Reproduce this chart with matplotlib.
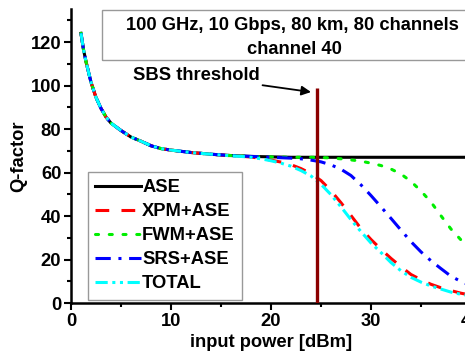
import matplotlib
matplotlib.use('Agg')
import matplotlib.pyplot as plt
from matplotlib.patches import Rectangle

plt.rcParams['font.family'] = ['Liberation Sans', 'DejaVu Sans']
plt.rcParams['font.weight'] = 'bold'

# input power [dBm]
power = [1, 1.25, 1.5, 2, 2.5, 3, 3.5, 4, 5, 6, 7, 8, 9, 10, 12, 14,
         16, 17, 18, 19, 20, 21, 22, 23, 24, 25, 26, 27, 28, 29, 30,
         31, 32, 33, 34, 35, 36, 37, 38, 39, 40]

# common low-power part (all curves overlap up to 14 dBm)
q_low = [124, 116.5, 111, 101.5, 94.5, 89.5, 85.5, 82.7, 79.3, 76.3,
         74.4, 72.3, 71.0, 70.3, 69.2, 68.4]

q_ase = q_low + [67.8, 67.6, 67.4, 67.3, 67.2, 67.1, 67.0, 67.0, 67.0, 67.0,
                 67.0, 67.0, 67.0, 67.0, 67.0, 67.0, 67.0, 67.0, 67.0, 67.0,
                 67.0, 67.0, 67.0, 67.0, 67.0]
q_xpm = q_low + [67.7, 67.5, 67.1, 66.5, 65.7, 64.8, 63.6, 61.8, 59.5, 56.3,
                 51.6, 46.1, 40.2, 34.2, 29.2, 24.7, 20.5, 16.7, 13.1, 10.7,
                 8.6, 7.0, 5.7, 4.5, 3.6]
q_fwm = q_low + [67.8, 67.6, 67.4, 67.3, 67.2, 67.1, 67.0, 67.0, 67.0, 66.9,
                 66.7, 66.3, 65.8, 65.2, 64.3, 63.2, 61.6, 59.3, 55.9, 51.5,
                 46.4, 40.1, 34.0, 29.0, 24.5]
q_srs = q_low + [67.8, 67.6, 67.4, 67.2, 67.0, 66.8, 66.6, 66.3, 65.7, 64.9,
                 63.5, 61.5, 58.6, 54.3, 49.4, 44.2, 38.9, 33.5, 28.2, 23.5,
                 19.4, 15.8, 12.3, 9.9, 8.0]
q_total = q_low + [67.7, 67.4, 67.0, 66.3, 65.4, 64.3, 62.9, 60.9, 58.4, 54.6,
                   49.8, 44.2, 38.3, 32.8, 27.6, 23.2, 18.6, 14.8, 11.8, 9.6,
                   7.8, 6.4, 5.0, 4.0, 3.3]

sbs_power = 24.6
sbs_top = 99

fs = 13.2

fig = plt.figure(figsize=(4.65, 3.59), dpi=100)
ax = fig.add_axes([71 / 465, 56 / 359, 400 / 465, 293.6 / 359])

lw = 2.2
ax.plot(power, q_ase, color='black', lw=lw, label='ASE')
ax.plot(power, q_xpm, color='red', lw=lw, dashes=(4.5, 4), label='XPM+ASE')
ax.plot(power, q_fwm, color='#00ee00', lw=lw, dashes=(1, 3.5),
        dash_capstyle='round', label='FWM+ASE')
ax.plot(power, q_srs, color='blue', lw=lw, dashes=(5, 2.5, 1, 2.5),
        label='SRS+ASE')
ax.plot(power, q_total, color='cyan', lw=lw, dashes=(4, 1.5, 1, 1.5, 1, 1.5),
        label='TOTAL')

ax.vlines(sbs_power, 0, sbs_top, color='#8b0000', lw=2.4, zorder=5)
ax.annotate('SBS threshold', xy=(24.0, 97), xytext=(6.2, 104.4),
            fontsize=fs, fontweight='bold', ha='left', va='center',
            arrowprops=dict(arrowstyle='-|>', color='black', lw=1.3,
                            mutation_scale=14, shrinkA=0, shrinkB=0))

ax.set_xlim(0, 40)
ax.set_ylim(0, 135)
ax.set_xticks([0, 10, 20, 30, 40])
ax.set_xticks([5, 15, 25, 35], minor=True)
ax.set_yticks([0, 20, 40, 60, 80, 100, 120])
ax.set_yticks([10, 30, 50, 70, 90, 110, 130], minor=True)
ax.tick_params(which='major', direction='out', length=5, width=1.5,
               labelsize=fs, pad=2)
ax.tick_params(which='minor', direction='out', length=3, width=1.5)
for t in ax.get_xticklabels() + ax.get_yticklabels():
    t.set_fontweight('bold')
for s in ['top', 'right']:
    ax.spines[s].set_visible(False)
for s in ['left', 'bottom']:
    ax.spines[s].set_linewidth(1.8)

ax.set_xlabel('input power [dBm]', fontsize=fs, fontweight='bold', labelpad=3)
ax.set_ylabel('Q-factor', fontsize=fs, fontweight='bold')
ax.yaxis.set_label_coords(-0.11, 0.5)

leg = ax.legend(loc='upper left', bbox_to_anchor=(88 / 465, 1 - 172 / 359),
                bbox_transform=fig.transFigure, borderaxespad=0,
                fontsize=fs, handlelength=2.5, handletextpad=0.05,
                labelspacing=0.38, borderpad=0.4, fancybox=False,
                framealpha=1, edgecolor='#999999')
leg.get_frame().set_linewidth(1.0)
for t in leg.get_texts():
    t.set_fontweight('bold')

fig.patches.append(Rectangle((102 / 465, 1 - 60 / 359), 380 / 465, 50.5 / 359,
                             transform=fig.transFigure, fill=False,
                             edgecolor='#999999', lw=1.0))
fig.text(292 / 465, 1 - 25 / 359, '100 GHz, 10 Gbps, 80 km, 80 channels',
         ha='center', va='center', fontsize=fs, fontweight='bold')
fig.text(294 / 465, 1 - 49 / 359, 'channel 40',
         ha='center', va='center', fontsize=fs, fontweight='bold')

fig.savefig('out.png', dpi=100)
